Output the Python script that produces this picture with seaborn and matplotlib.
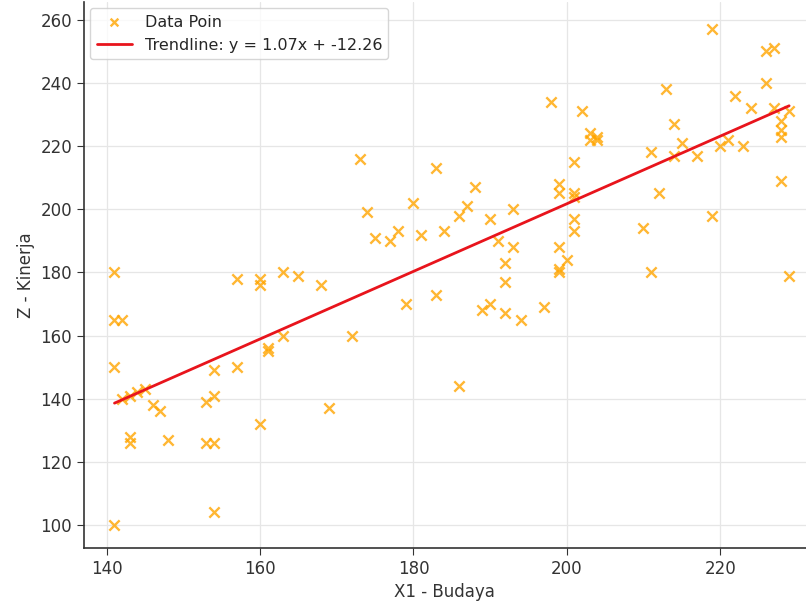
import numpy as np
import matplotlib
matplotlib.use("Agg")
import matplotlib.pyplot as plt
import seaborn as sns

# Datos (X1 - Budaya vs Z - Kinerja)
x1_budaya = [141, 141, 142, 141, 141, 142, 143, 144, 145, 146, 147, 143, 143, 148,
             153, 154, 153, 154, 154, 154, 157, 157, 160, 160, 160, 161, 161, 163,
             163, 165, 168, 169, 172, 173, 174, 175, 177, 178, 179, 180, 181, 183,
             183, 184, 186, 187, 186, 188, 189, 190, 190, 191, 192, 192, 192, 193,
             193, 194, 197, 198, 199, 199, 199, 199, 199, 200, 201, 201, 201, 201,
             201, 202, 203, 203, 204, 204, 210, 211, 211, 212, 213, 214, 214, 215,
             217, 219, 219, 220, 221, 222, 223, 224, 226, 226, 227, 227, 228, 228,
             228, 228, 229, 229]
z_kinerja = [180, 165, 165, 150, 100, 140, 141, 142, 143, 138, 136, 128, 126, 127,
             139, 141, 126, 126, 149, 104, 178, 150, 178, 176, 132, 156, 155, 180,
             160, 179, 176, 137, 160, 216, 199, 191, 190, 193, 170, 202, 192, 213,
             173, 193, 198, 201, 144, 207, 168, 197, 170, 190, 183, 177, 167, 200,
             188, 165, 169, 234, 208, 205, 188, 181, 180, 184, 215, 204, 205, 197,
             193, 231, 224, 222, 222, 223, 194, 218, 180, 205, 238, 227, 217, 221,
             217, 257, 198, 220, 222, 236, 220, 232, 240, 250, 251, 232, 228, 225,
             223, 209, 231, 179]

# Coeficientes de la recta mostrados en la leyenda
pendiente = 1.07
intercepto = -12.26

sns.set_style("ticks")
plt.rcParams['font.family'] = ['DejaVu Sans']

fig = plt.figure(figsize=(8.06, 6.03), dpi=100)
ax = fig.add_axes([0.104, 0.091, 0.896, 0.906])

sns.scatterplot(x=x1_budaya, y=z_kinerja, marker="x", color="orange", s=55,
                linewidth=1.7, alpha=0.8, label="Data Poin", ax=ax)

x_linea = np.array([min(x1_budaya), max(x1_budaya)])
sns.lineplot(x=x_linea, y=pendiente * x_linea + intercepto, color="#e8141c", linewidth=2,
             label=f"Trendline: y = {pendiente:.2f}x + {intercepto:.2f}", ax=ax)

ax.set_xlim(137.0, 231.2)
ax.set_ylim(92.7, 265.7)
ax.set_xticks([140, 160, 180, 200, 220])
ax.set_yticks([100, 120, 140, 160, 180, 200, 220, 240, 260])
ax.grid(True, color="#e6e6e6", linewidth=0.9)
ax.set_axisbelow(True)
sns.despine(ax=ax)
for s in ["left", "bottom"]:
    ax.spines[s].set_color("#333333")
    ax.spines[s].set_linewidth(1.2)
ax.tick_params(labelsize=12, colors="#333333", length=5)

ax.set_xlabel("X1 - Budaya", fontsize=12, color="#333333")
ax.set_ylabel("Z - Kinerja", fontsize=12, color="#333333")
ax.legend(loc="upper left", fontsize=11.5, frameon=True, edgecolor="#cccccc",
          borderaxespad=0.4, markerscale=0.75, handlelength=2.2)

plt.savefig("out.png", dpi=100)
